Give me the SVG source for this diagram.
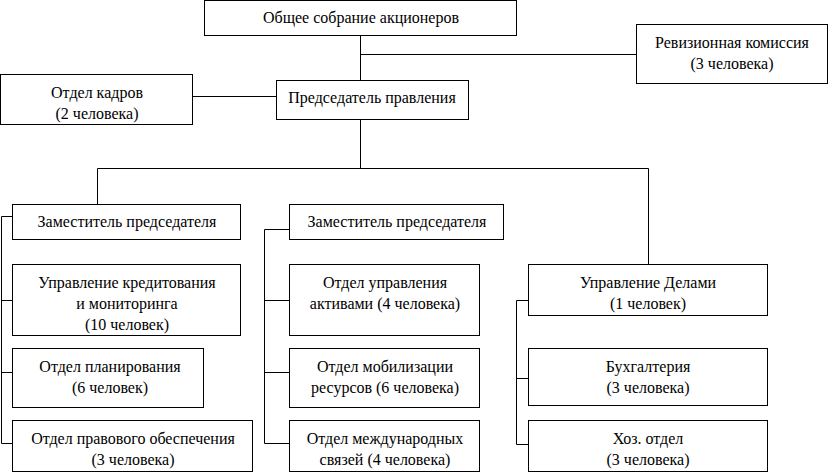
<svg xmlns="http://www.w3.org/2000/svg" width="830" height="473" viewBox="0 0 830 473">
<style>
rect.b{fill:#fff;stroke:#000;stroke-width:1}
text{font-family:'Liberation Serif','Times New Roman',serif;font-size:16px;fill:#000;text-anchor:middle}
#connectors path{fill:none;stroke:#000;stroke-width:1}
</style>
<rect width="830" height="473" fill="#fff"/>
<g id="connectors">
<path d="M360.5 36V80"/>
<path d="M360.5 54.5H636"/>
<path d="M193 96.5H276"/>
<path d="M360.5 120V168.5"/>
<path d="M97.5 204V168.5H648.5V264"/>
<path d="M12 216.5H1.5V443.5H12M1.5 300.5H12M1.5 372.5H12"/>
<path d="M289 229.5H264.5V443.5H289M264.5 300.5H289M264.5 372.5H289"/>
<path d="M528 300.5H516.5V444.5H528M516.5 378.5H528"/>
</g>
<g id="n1"><rect class="b" x="204.5" y="0.5" width="312" height="35"/><text x="361" y="23">Общее собрание акционеров</text></g>
<g id="n2"><rect class="b" x="636.5" y="24.5" width="191" height="59"/><text x="732" y="48">Ревизионная комиссия</text><text x="732" y="69">(3 человека)</text></g>
<g id="n3"><rect class="b" x="0.5" y="74.5" width="192" height="50"/><text x="97" y="98">Отдел кадров</text><text x="97" y="119">(2 человека)</text></g>
<g id="n4"><rect class="b" x="276.5" y="80.5" width="192" height="39"/><text x="372" y="103">Председатель правления</text></g>
<g id="n5"><rect class="b" x="12.5" y="204.5" width="228" height="35"/><text x="127" y="227">Заместитель председателя</text></g>
<g id="n6"><rect class="b" x="289.5" y="204.5" width="214" height="35"/><text x="397" y="227">Заместитель председателя</text></g>
<g id="n7"><rect class="b" x="12.5" y="264.5" width="228" height="71"/><text x="127" y="288">Управление кредитования</text><text x="127" y="309">и мониторинга</text><text x="127" y="330">(10 человек)</text></g>
<g id="n8"><rect class="b" x="12.5" y="348.5" width="191" height="59"/><text x="110" y="372">Отдел планирования</text><text x="110" y="393">(6 человек)</text></g>
<g id="n9"><rect class="b" x="12.5" y="420.5" width="240" height="51"/><text x="133" y="444">Отдел правового обеспечения</text><text x="133" y="465">(3 человека)</text></g>
<g id="n10"><rect class="b" x="289.5" y="264.5" width="190" height="71"/><text x="385" y="288">Отдел управления</text><text x="385" y="309">активами (4 человека)</text></g>
<g id="n11"><rect class="b" x="289.5" y="348.5" width="190" height="59"/><text x="385" y="372">Отдел мобилизации</text><text x="385" y="393">ресурсов (6 человека)</text></g>
<g id="n12"><rect class="b" x="289.5" y="420.5" width="190" height="51"/><text x="385" y="444">Отдел международных</text><text x="385" y="465">связей (4 человека)</text></g>
<g id="n13"><rect class="b" x="528.5" y="264.5" width="239" height="51"/><text x="648" y="288">Управление Делами</text><text x="648" y="309">(1 человек)</text></g>
<g id="n14"><rect class="b" x="528.5" y="348.5" width="239" height="57"/><text x="648" y="372">Бухгалтерия</text><text x="648" y="393">(3 человека)</text></g>
<g id="n15"><rect class="b" x="528.5" y="420.5" width="239" height="51"/><text x="648" y="444">Хоз. отдел</text><text x="648" y="465">(3 человека)</text></g>
</svg>
